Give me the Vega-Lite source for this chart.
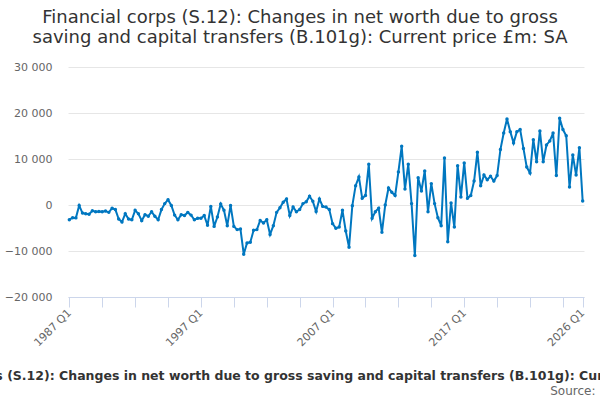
{
  "$schema": "https://vega.github.io/schema/vega-lite/v6.json",
  "width": 516,
  "height": 230,
  "autosize": {"type": "none"},
  "padding": {"left": 68, "top": 67, "right": 16, "bottom": 103},
  "background": "white",
  "title": {
    "text": ["Financial corps (S.12): Changes in net worth due to gross", "saving and capital transfers (B.101g): Current price £m: SA"],
    "anchor": "middle",
    "dx": -26,
    "offset": 14,
    "fontSize": 18,
    "fontWeight": "normal",
    "color": "#333333",
    "lineHeight": 20,
    "font": "DejaVu Sans"
  },
  "data": {
    "values": [
      {"quarter": "1987 Q1", "value": -3200}, {"quarter": "1987 Q2", "value": -2750}, {"quarter": "1987 Q3", "value": -2800}, {"quarter": "1987 Q4", "value": -100},
      {"quarter": "1988 Q1", "value": -1750}, {"quarter": "1988 Q2", "value": -1900}, {"quarter": "1988 Q3", "value": -2000}, {"quarter": "1988 Q4", "value": -1250},
      {"quarter": "1989 Q1", "value": -1450}, {"quarter": "1989 Q2", "value": -1400}, {"quarter": "1989 Q3", "value": -1450}, {"quarter": "1989 Q4", "value": -1300},
      {"quarter": "1990 Q1", "value": -1600}, {"quarter": "1990 Q2", "value": -700}, {"quarter": "1990 Q3", "value": -1000}, {"quarter": "1990 Q4", "value": -3050},
      {"quarter": "1991 Q1", "value": -3700}, {"quarter": "1991 Q2", "value": -1900}, {"quarter": "1991 Q3", "value": -3050}, {"quarter": "1991 Q4", "value": -3200},
      {"quarter": "1992 Q1", "value": -1150}, {"quarter": "1992 Q2", "value": -1900}, {"quarter": "1992 Q3", "value": -3400}, {"quarter": "1992 Q4", "value": -2100},
      {"quarter": "1993 Q1", "value": -2450}, {"quarter": "1993 Q2", "value": -1450}, {"quarter": "1993 Q3", "value": -2450}, {"quarter": "1993 Q4", "value": -3200},
      {"quarter": "1994 Q1", "value": -1000}, {"quarter": "1994 Q2", "value": 300}, {"quarter": "1994 Q3", "value": 1150}, {"quarter": "1994 Q4", "value": -100},
      {"quarter": "1995 Q1", "value": -2200}, {"quarter": "1995 Q2", "value": -3200}, {"quarter": "1995 Q3", "value": -2100}, {"quarter": "1995 Q4", "value": -2300},
      {"quarter": "1996 Q1", "value": -1600}, {"quarter": "1996 Q2", "value": -2200}, {"quarter": "1996 Q3", "value": -3200}, {"quarter": "1996 Q4", "value": -2900},
      {"quarter": "1997 Q1", "value": -2900}, {"quarter": "1997 Q2", "value": -2300}, {"quarter": "1997 Q3", "value": -4400}, {"quarter": "1997 Q4", "value": -300},
      {"quarter": "1998 Q1", "value": -4650}, {"quarter": "1998 Q2", "value": -2600}, {"quarter": "1998 Q3", "value": 200}, {"quarter": "1998 Q4", "value": -1150},
      {"quarter": "1999 Q1", "value": -4500}, {"quarter": "1999 Q2", "value": -100}, {"quarter": "1999 Q3", "value": -4650}, {"quarter": "1999 Q4", "value": -5350},
      {"quarter": "2000 Q1", "value": -5200}, {"quarter": "2000 Q2", "value": -10700}, {"quarter": "2000 Q3", "value": -8250}, {"quarter": "2000 Q4", "value": -8100},
      {"quarter": "2001 Q1", "value": -5500}, {"quarter": "2001 Q2", "value": -5350}, {"quarter": "2001 Q3", "value": -3350}, {"quarter": "2001 Q4", "value": -3900},
      {"quarter": "2002 Q1", "value": -3200}, {"quarter": "2002 Q2", "value": -6400}, {"quarter": "2002 Q3", "value": -4500}, {"quarter": "2002 Q4", "value": -1600},
      {"quarter": "2003 Q1", "value": -600}, {"quarter": "2003 Q2", "value": 600}, {"quarter": "2003 Q3", "value": 1300}, {"quarter": "2003 Q4", "value": -2300},
      {"quarter": "2004 Q1", "value": -450}, {"quarter": "2004 Q2", "value": -1450}, {"quarter": "2004 Q3", "value": -1000}, {"quarter": "2004 Q4", "value": 300},
      {"quarter": "2005 Q1", "value": 700}, {"quarter": "2005 Q2", "value": 1900}, {"quarter": "2005 Q3", "value": 800}, {"quarter": "2005 Q4", "value": -1400},
      {"quarter": "2006 Q1", "value": 1300}, {"quarter": "2006 Q2", "value": -300}, {"quarter": "2006 Q3", "value": -450}, {"quarter": "2006 Q4", "value": -1000},
      {"quarter": "2007 Q1", "value": -4050}, {"quarter": "2007 Q2", "value": -5050}, {"quarter": "2007 Q3", "value": -4800}, {"quarter": "2007 Q4", "value": -1150},
      {"quarter": "2008 Q1", "value": -5650}, {"quarter": "2008 Q2", "value": -9200}, {"quarter": "2008 Q3", "value": -150}, {"quarter": "2008 Q4", "value": 4200},
      {"quarter": "2009 Q1", "value": 6100}, {"quarter": "2009 Q2", "value": 1450}, {"quarter": "2009 Q3", "value": 2050}, {"quarter": "2009 Q4", "value": 8850},
      {"quarter": "2010 Q1", "value": -2900}, {"quarter": "2010 Q2", "value": -1450}, {"quarter": "2010 Q3", "value": -700}, {"quarter": "2010 Q4", "value": -5950},
      {"quarter": "2011 Q1", "value": 0}, {"quarter": "2011 Q2", "value": 3700}, {"quarter": "2011 Q3", "value": 2750}, {"quarter": "2011 Q4", "value": 2050},
      {"quarter": "2012 Q1", "value": 7200}, {"quarter": "2012 Q2", "value": 12750}, {"quarter": "2012 Q3", "value": 3500}, {"quarter": "2012 Q4", "value": 8850},
      {"quarter": "2013 Q1", "value": 300}, {"quarter": "2013 Q2", "value": -11000}, {"quarter": "2013 Q3", "value": 5950}, {"quarter": "2013 Q4", "value": 3050},
      {"quarter": "2014 Q1", "value": 7400}, {"quarter": "2014 Q2", "value": -1450}, {"quarter": "2014 Q3", "value": 4650}, {"quarter": "2014 Q4", "value": 300},
      {"quarter": "2015 Q1", "value": -2750}, {"quarter": "2015 Q2", "value": -4500}, {"quarter": "2015 Q3", "value": 10200}, {"quarter": "2015 Q4", "value": -8000},
      {"quarter": "2016 Q1", "value": 450}, {"quarter": "2016 Q2", "value": -4800}, {"quarter": "2016 Q3", "value": 8550}, {"quarter": "2016 Q4", "value": 1750},
      {"quarter": "2017 Q1", "value": 9150}, {"quarter": "2017 Q2", "value": 1450}, {"quarter": "2017 Q3", "value": 2050}, {"quarter": "2017 Q4", "value": 5200},
      {"quarter": "2018 Q1", "value": 11450}, {"quarter": "2018 Q2", "value": 4200}, {"quarter": "2018 Q3", "value": 6500}, {"quarter": "2018 Q4", "value": 5500},
      {"quarter": "2019 Q1", "value": 6250}, {"quarter": "2019 Q2", "value": 5200}, {"quarter": "2019 Q3", "value": 6400}, {"quarter": "2019 Q4", "value": 12050},
      {"quarter": "2020 Q1", "value": 15650}, {"quarter": "2020 Q2", "value": 18700}, {"quarter": "2020 Q3", "value": 15950}, {"quarter": "2020 Q4", "value": 13500},
      {"quarter": "2021 Q1", "value": 15950}, {"quarter": "2021 Q2", "value": 16400}, {"quarter": "2021 Q3", "value": 12300}, {"quarter": "2021 Q4", "value": 8250},
      {"quarter": "2022 Q1", "value": 6950}, {"quarter": "2022 Q2", "value": 14200}, {"quarter": "2022 Q3", "value": 9400}, {"quarter": "2022 Q4", "value": 16100},
      {"quarter": "2023 Q1", "value": 9400}, {"quarter": "2023 Q2", "value": 13050}, {"quarter": "2023 Q3", "value": 13900}, {"quarter": "2023 Q4", "value": 15650},
      {"quarter": "2024 Q1", "value": 6400}, {"quarter": "2024 Q2", "value": 18850}, {"quarter": "2024 Q3", "value": 16400}, {"quarter": "2024 Q4", "value": 15050},
      {"quarter": "2025 Q1", "value": 3900}, {"quarter": "2025 Q2", "value": 10850}, {"quarter": "2025 Q3", "value": 6500}, {"quarter": "2025 Q4", "value": 12450},
      {"quarter": "2026 Q1", "value": 850}
    ]
  },
  "layer": [
    {
      "mark": {
        "type": "line",
        "color": "#0077c0",
        "strokeWidth": 2,
        "point": {"filled": true, "size": 12, "color": "#0077c0"}
      },
      "encoding": {
        "x": {
          "field": "quarter",
          "type": "ordinal",
          "sort": null,
          "scale": {"type": "point", "padding": 0.4},
          "axis": {
            "orient": "bottom",
            "values": ["1987 Q1", "1989 Q3", "1992 Q1", "1994 Q3", "1997 Q1", "1999 Q3", "2002 Q1", "2004 Q3", "2007 Q1", "2009 Q3", "2012 Q1", "2014 Q3", "2017 Q1", "2019 Q3", "2022 Q1", "2024 Q3", "2026 Q1"],
            "labelExpr": "indexof(['1987 Q1', '1997 Q1', '2007 Q1', '2017 Q1', '2026 Q1'], datum.value) >= 0 ? datum.value : ''",
            "labelAngle": -45,
            "labelAlign": "right",
            "labelBaseline": "middle",
            "labelOverlap": false,
            "labelFontSize": 11,
            "labelColor": "#666666",
            "labelPadding": 4,
            "grid": false,
            "domainColor": "#ccd6eb",
            "tickColor": "#ccd6eb",
            "tickSize": 10,
            "title": "Financial corps (S.12): Changes in net worth due to gross saving and capital transfers (B.101g): Current price £m: SA",
            "titleFontSize": 12.5,
            "titleFontWeight": "bold",
            "titleColor": "#333333",
            "titleX": 243,
            "titleY": 78,
            "titleBaseline": "middle"
          }
        },
        "y": {
          "field": "value",
          "type": "quantitative",
          "scale": {"domain": [-20000, 30000], "nice": false},
          "axis": {
            "values": [-20000, -10000, 0, 10000, 20000, 30000],
            "labelExpr": "replace(format(datum.value, ','), ',', ' ')",
            "title": null,
            "domain": false,
            "ticks": false,
            "labelPadding": 16,
            "labelFontSize": 11,
            "labelColor": "#666666",
            "gridColor": "#e6e6e6"
          }
        }
      }
    },
    {
      "data": {"values": [{"quarter": "2026 Q1", "value": 0}]},
      "mark": {"type": "point", "opacity": 0},
      "encoding": {
        "x": {
          "field": "quarter",
          "type": "ordinal",
          "sort": null,
          "axis": {
            "orient": "bottom",
            "labels": false,
            "ticks": false,
            "domain": false,
            "grid": false,
            "title": "Source:",
            "titleFontSize": 12,
            "titleFontWeight": "normal",
            "titleColor": "#666666",
            "titleX": 527,
            "titleY": 93,
            "titleAlign": "right",
            "titleBaseline": "middle"
          }
        },
        "y": {"field": "value", "type": "quantitative"}
      }
    }
  ],
  "resolve": {"axis": {"x": "independent"}},
  "config": {
    "font": "DejaVu Sans",
    "view": {"stroke": null}
  }
}
